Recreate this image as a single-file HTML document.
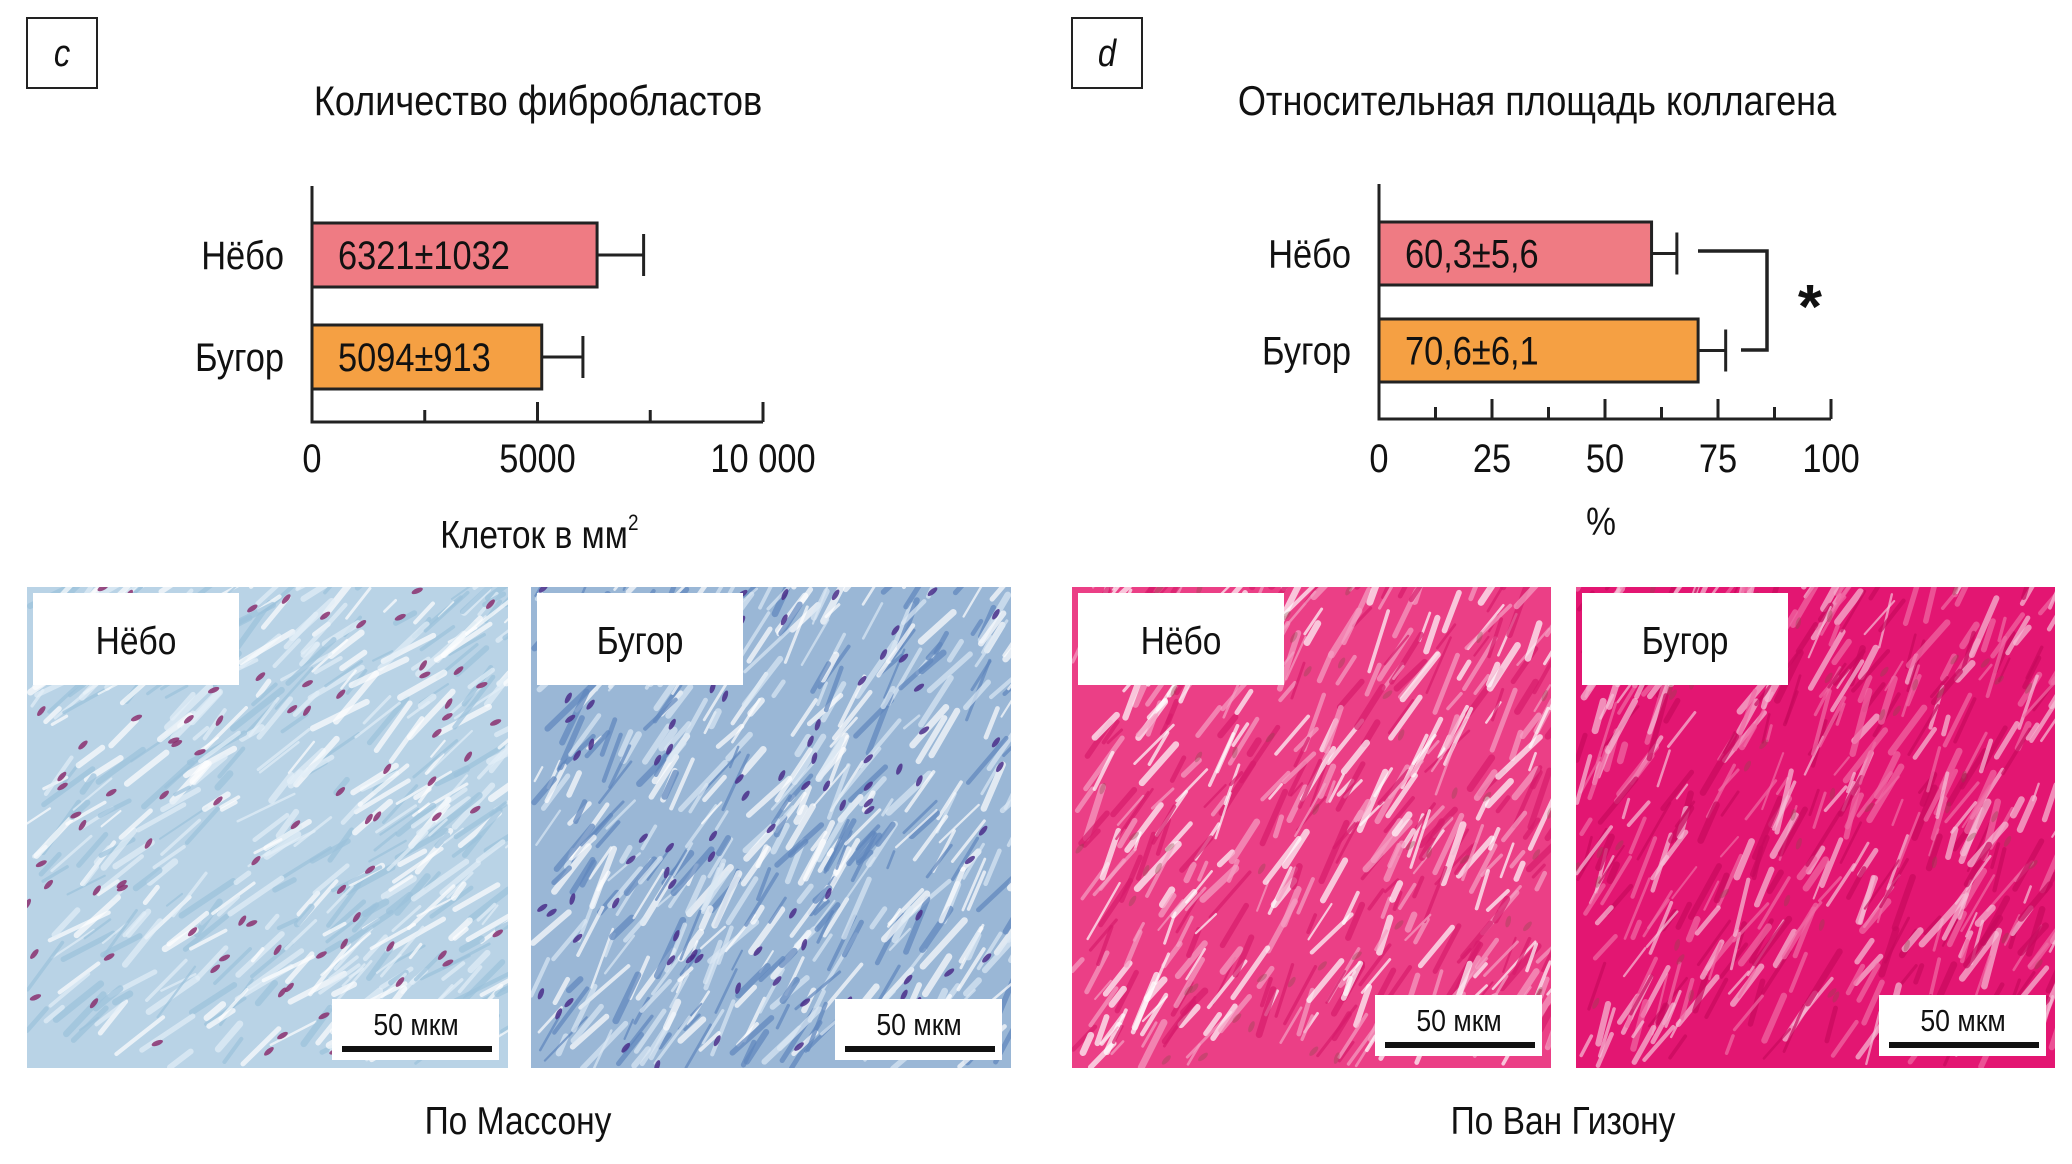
<!DOCTYPE html>
<html><head><meta charset="utf-8"><style>
html,body{margin:0;padding:0;background:#fff;}
svg{display:block;}
text{font-family:"Liberation Sans Narrow","Liberation Sans",sans-serif;fill:#111;}
</style></head><body>
<svg id="fig" width="2072" height="1164" viewBox="0 0 2072 1164" xmlns="http://www.w3.org/2000/svg">
<rect width="2072" height="1164" fill="#fff"/>
<g id="chartC"></g>
<g id="chartD"></g>
<g id="micro"></g>
</svg>
<script>
const NS='http://www.w3.org/2000/svg';
// ---- data ----
const categories=['Нёбо','Бугор'];
const fibroMeans=[6321,5094];
const fibroErrs=[1032,913];
const fibroLabels=['6321±1032','5094±913'];
const fibroTicks=[0,5000,10000];
const fibroTickLabels=['0','5000','10 000'];
const collMeans=[60.3,70.6];
const collErrs=[5.6,6.1];
const collLabels=['60,3±5,6','70,6±6,1'];
const collTicks=[0,25,50,75,100];
const collTickLabels=['0','25','50','75','100'];
const barColors=['#ef7b83','#f5a043'];

function el(tag,attrs,parent,txt){const e=document.createElementNS(NS,tag);for(const k in attrs)e.setAttribute(k,attrs[k]);if(txt!==undefined)e.textContent=txt;parent.appendChild(e);return e;}
const SX=0.86;
function txt(parent,x,y,size,anchor,s,extra){
  const g=el('g',{transform:`translate(${x} ${y}) scale(${SX} 1)`},parent);
  const a={x:0,y:0,'font-size':size,'text-anchor':anchor||'start'};
  if(extra)for(const k in extra)a[k]=extra[k];
  return el('text',a,g,s);
}

function drawChart(g,o){
  const x=v=>o.x0+(v-o.min)/(o.max-o.min)*(o.x1-o.x0);
  const b=el('rect',{x:o.boxX,y:18,width:70,height:70,fill:'none',stroke:'#222','stroke-width':2},g);
  
  const bl=txt(g,o.boxX+35,66,38,'middle',o.letter,{'font-style':'italic'});
  
  const t=txt(g,o.titleX,115,42,'middle',o.title);
  
  o.means.forEach((m,i)=>{
    const top=o.barTops[i],h=o.barH,cy=top+h/2;
    const r=el('rect',{x:x(0),y:top,width:x(m)-x(0),height:h,fill:barColors[i],stroke:'#222','stroke-width':3},g);
    
    const e=el('path',{d:`M${x(m)} ${cy}H${x(m+o.errs[i])}M${x(m+o.errs[i])} ${cy-21}V${cy+21}`,stroke:'#222','stroke-width':3,fill:'none'},g);
    
    const lt=txt(g,x(0)+26,cy+14,40,'start',o.labels[i]);
    
    const ct=txt(g,x(0)-28,cy+14,40,'end',categories[i]);
    
  });
  const ax=el('path',{d:`M${x(0)} ${o.axTop}V${o.base}H${x(o.max)}`,stroke:'#222','stroke-width':3,fill:'none'},g);
  
  for(let v=o.min;v<=o.max+1e-9;v+=o.minor){
    const major=o.ticks.some(tv=>Math.abs(tv-v)<1e-9)&&v!==o.min;
    const tk=el('line',{x1:x(v),x2:x(v),y1:o.base,y2:o.base-(major?20:12),stroke:'#222','stroke-width':3},g);
    
  }
  o.ticks.forEach((v,i)=>{
    const tl=txt(g,x(v),472,40,'middle',o.tickLabels[i]);
    
  });
  const at=txt(g,o.axTitleX,o.axTitleY,39,'middle',o.axTitle);
  
  if(o.sup){const s=txt(g,o.axTitleX+94,o.axTitleY-18,22,'start','2');}
  return x;
}
drawChart(document.getElementById('chartC'),{x0:312,x1:763,min:0,max:10000,minor:2500,axTop:186,base:422,barTops:[223,325],barH:64,
  means:fibroMeans,errs:fibroErrs,labels:fibroLabels,ticks:fibroTicks,tickLabels:fibroTickLabels,
  boxX:27,letter:'c',titleX:538,title:'Количество фибробластов',axTitle:'Клеток в мм',axTitleX:534,axTitleY:548,sup:true});
const gd=document.getElementById('chartD');
const xd=drawChart(gd,{x0:1379,x1:1831,min:0,max:100,minor:12.5,axTop:184,base:419,barTops:[222,319],barH:63,
  means:collMeans,errs:collErrs,labels:collLabels,ticks:collTicks,tickLabels:collTickLabels,
  boxX:1072,letter:'d',titleX:1537,title:'Относительная площадь коллагена',axTitle:'%',axTitleX:1601,axTitleY:535,sup:false});
const br=el('path',{d:'M1698 251H1767V350H1741',stroke:'#222','stroke-width':3.5,fill:'none'},gd);

const st=el('text',{x:1810,y:328,'font-size':62,'font-weight':'bold','text-anchor':'middle','font-family':'Liberation Sans'},gd,'*');


// ---- micrograph textures (decorative) ----
let seed=7;function rnd(){seed=(seed*16807)%2147483647;return seed/2147483647;}
const mg=document.getElementById('micro');
const panels=[
 {x:27,w:481,bg:'#b9d3e6',fib:['#ffffff','#e3eff8','#9cc2dc'],nuc:'#8a2f6e',ang:-40,label:'Нёбо',name:'masson-nebo'},
 {x:531,w:480,bg:'#9ab7d6',fib:['#ffffff','#dbe8f4','#5f86bd'],nuc:'#4a2e8a',ang:-55,label:'Бугор',name:'masson-bugor'},
 {x:1072,w:479,bg:'#eb3f86',fib:['#ffffff','#f6a0c4','#d81c6c'],nuc:'#8a4a4a',ang:-58,label:'Нёбо',name:'vangieson-nebo'},
 {x:1576,w:479,bg:'#e31672',fib:['#f7c0d8','#f06aa4','#c80a5e'],nuc:'#8a4a4a',ang:-62,label:'Бугор',name:'vangieson-bugor'}];
panels.forEach((p,pi)=>{
  const g=el('g',{},mg);
  
  const cid='clip'+pi;
  const cp=el('clipPath',{id:cid},g);el('rect',{x:p.x,y:587,width:p.w,height:481},cp);
  const inner=el('g',{'clip-path':`url(#${cid})`},g);
  el('rect',{x:p.x,y:587,width:p.w,height:481,fill:p.bg},inner);
  for(let i=0;i<480;i++){
    const cx=p.x+rnd()*p.w,cy=586+rnd()*483,len=15+rnd()*50,a=(p.ang+(rnd()-0.5)*30)*Math.PI/180;
    const c=p.fib[Math.floor(rnd()*3)];
    el('line',{x1:cx,y1:cy,x2:cx+Math.cos(a)*len,y2:cy+Math.sin(a)*len,stroke:c,'stroke-width':2+rnd()*5,'stroke-linecap':'round',opacity:0.7},inner);
  }
  for(let i=0;i<(pi<2?90:50);i++){
    const cx=p.x+rnd()*p.w,cy=586+rnd()*483,a=p.ang+(rnd()-0.5)*40;
    el('ellipse',{cx:cx,cy:cy,rx:6,ry:2.5,fill:p.nuc,opacity:pi<2?0.85:0.35,transform:`rotate(${a} ${cx} ${cy})`},inner);
  }
  const lb=el('rect',{x:p.x+6,y:593,width:206,height:92,fill:'#fff'},g);
  
  const lt=txt(g,p.x+109,654,39,'middle',p.label);
  
  const sy=pi<2?999:995;
  const sb=el('rect',{x:p.x+p.w-176,y:sy,width:167,height:61,fill:'#fff'},g);
  
  const stx=txt(g,p.x+p.w-92,sy+36,31,'middle','50 мкм');
  
  const sl=el('rect',{x:p.x+p.w-166,y:sy+47,width:150,height:6,fill:'#111'},g);
  
});
const c1=txt(mg,518,1134,39,'middle','По Массону');

const c2=txt(mg,1563,1134,39,'middle','По Ван Гизону');

</script>
</body></html>
